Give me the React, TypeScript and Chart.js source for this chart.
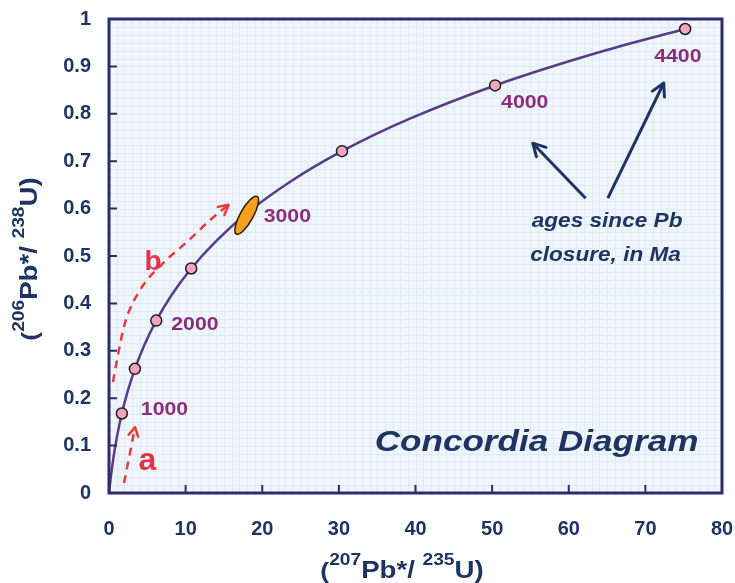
import { useEffect, useRef } from 'react';
import { Chart, registerables } from 'chart.js';

Chart.register(...registerables);

// Concordia curve (Ma ages and ratios)
const ageMa = [0, 100, 250, 500, 750, 1000, 1250, 1500, 1750, 2000, 2250, 2500, 2750, 3000, 3250, 3500, 3750, 4000, 4250, 4400];
const ratio207_235 = [0, 0.1035, 0.279, 0.636, 1.093, 1.677, 2.425, 3.381, 4.604, 6.168, 8.17, 10.73, 14.005, 18.19, 23.55, 30.41, 39.18, 50.39, 64.73, 75.19];
const ratio206_238 = [0, 0.0156, 0.0395, 0.0807, 0.1234, 0.1678, 0.214, 0.262, 0.3119, 0.3638, 0.4177, 0.4737, 0.532, 0.5927, 0.6556, 0.7211, 0.7891, 0.8598, 0.9334, 0.9789];

// marked ages on the curve
const markerAges = [1000, 1500, 2000, 2500, 3500, 4000, 4400];
const markerX = [1.677, 3.381, 6.168, 10.73, 30.41, 50.39, 75.19];
const markerY = [0.1678, 0.262, 0.3638, 0.4737, 0.7211, 0.8598, 0.9789];

// labelled ages
const ageLabels = ['1000', '2000', '3000', '4000', '4400'];
const ageLabelX = [1.677, 6.168, 17.97, 50.39, 75.19];
const ageLabelY = [0.1678, 0.3638, 0.586, 0.8598, 0.9789];

// discordant sample ellipse centre
const ellipseX = 17.97;
const ellipseY = 0.586;

// dashed arrow paths
const arrowAX = [1.96, 3.4];
const arrowAY = [0.021, 0.139];
const arrowBX = [0.52, 1.05, 2.09, 4.05, 7.06, 10.2, 13.2, 15.6];
const arrowBY = [0.234, 0.281, 0.359, 0.428, 0.485, 0.53, 0.576, 0.608];

// pointer arrows
const pointer1X = [65.1, 72.4];
const pointer1Y = [0.622, 0.865];
const pointer2X = [62.2, 55.3];
const pointer2Y = [0.622, 0.738];

// axis ticks
const xTickLabels = ['0', '10', '20', '30', '40', '50', '60', '70', '80'];
const yTickLabels = ['0', '0.1', '0.2', '0.3', '0.4', '0.5', '0.6', '0.7', '0.8', '0.9', '1'];

const FONT = "'Liberation Sans', Arial, Helvetica, sans-serif";
const NAVY = '#1f3462';
const FRAME = '#2c2b6e';
const CURVE = '#5b3a88';
const AGE = '#8b2d7c';
const RED = '#e63c3c';
const RED_TXT = '#e2334a';

const pts = (xs: number[], ys: number[]) => xs.map((x, i) => ({ x, y: ys[i] }));

function stretchText(ctx: CanvasRenderingContext2D, t: string, x: number, y: number, sx: number) {
  ctx.save();
  ctx.translate(x, y);
  ctx.scale(sx, 1);
  ctx.fillText(t, 0, 0);
  ctx.restore();
}

function drawRich(ctx: CanvasRenderingContext2D, parts: [string, number, number][], cx: number, cy: number, sx: number) {
  let total = 0;
  for (const [t, s] of parts) {
    ctx.font = `bold ${s}px ${FONT}`;
    total += ctx.measureText(t).width * sx;
  }
  let x = cx - total / 2;
  ctx.textAlign = 'left';
  ctx.textBaseline = 'alphabetic';
  for (const [t, s, r] of parts) {
    ctx.font = `bold ${s}px ${FONT}`;
    stretchText(ctx, t, x, cy - r, sx);
    x += ctx.measureText(t).width * sx;
  }
}

function arrowHead(ctx: CanvasRenderingContext2D, x0: number, y0: number, x1: number, y1: number, size: number, color: string, width: number) {
  const a = Math.atan2(y1 - y0, x1 - x0);
  const spread = 0.5;
  ctx.save();
  ctx.setLineDash([]);
  ctx.strokeStyle = color;
  ctx.lineWidth = width;
  ctx.lineCap = 'round';
  ctx.lineJoin = 'round';
  ctx.beginPath();
  ctx.moveTo(x1 - size * Math.cos(a - spread), y1 - size * Math.sin(a - spread));
  ctx.lineTo(x1, y1);
  ctx.lineTo(x1 - size * Math.cos(a + spread), y1 - size * Math.sin(a + spread));
  ctx.stroke();
  ctx.restore();
}

const decor = {
  id: 'decor',
  beforeDraw(chart: any) {
    const { ctx, chartArea: ca, scales } = chart;
    const xs = scales.x;
    const ys = scales.y;
    ctx.save();
    ctx.fillStyle = '#eff6fb';
    ctx.fillRect(ca.left, ca.top, ca.right - ca.left, ca.bottom - ca.top);
    ctx.strokeStyle = '#dfeaf3';
    ctx.lineWidth = 1;
    ctx.beginPath();
    for (let v = 1; v < 80; v += 1) {
      const px = Math.round(xs.getPixelForValue(v)) + 0.5;
      ctx.moveTo(px, ca.top);
      ctx.lineTo(px, ca.bottom);
    }
    for (let k = 1; k < 60; k++) {
      const py = Math.round(ys.getPixelForValue(k / 60)) + 0.5;
      ctx.moveTo(ca.left, py);
      ctx.lineTo(ca.right, py);
    }
    ctx.stroke();
    ctx.restore();
  },
  afterDatasetsDraw(chart: any) {
    const { ctx, chartArea: ca, scales } = chart;
    const xs = scales.x;
    const ys = scales.y;
    const px = (v: number) => xs.getPixelForValue(v);
    const py = (v: number) => ys.getPixelForValue(v);
    ctx.save();

    // ellipse
    ctx.beginPath();
    ctx.ellipse(px(ellipseX), py(ellipseY), 21.5, 6.5, (-61 * Math.PI) / 180, 0, Math.PI * 2);
    ctx.fillStyle = '#f59f1e';
    ctx.fill();
    ctx.lineWidth = 1.5;
    ctx.strokeStyle = '#2a1a10';
    ctx.stroke();

    // arrowheads at the end of arrow datasets
    const heads: [number, number, string, number][] = [
      [2, 10, RED, 2.5],
      [3, 11, RED, 2.5],
      [4, 14, NAVY, 3],
      [5, 14, NAVY, 3],
    ];
    for (const [di, size, color, w] of heads) {
      const d = chart.getDatasetMeta(di).data;
      const a = d[d.length - 2];
      const b = d[d.length - 1];
      arrowHead(ctx, a.x, a.y, b.x, b.y, size, color, w);
    }

    // age labels
    const offs = [
      [19, -4],
      [15, 4],
      [17, 2],
      [6, 17],
      [-31, 28],
    ];
    ctx.fillStyle = AGE;
    ctx.font = `bold 19px ${FONT}`;
    ctx.textAlign = 'left';
    ctx.textBaseline = 'middle';
    ageLabels.forEach((t, i) => {
      stretchText(ctx, t, px(ageLabelX[i]) + offs[i][0], py(ageLabelY[i]) + offs[i][1], 1.12);
    });

    // a / b
    ctx.fillStyle = RED_TXT;
    ctx.textAlign = 'center';
    ctx.font = `bold 32px ${FONT}`;
    ctx.fillText('a', px(5.0), py(0.068));
    ctx.font = `bold 28px ${FONT}`;
    ctx.fillText('b', px(5.75), py(0.487));

    // notes
    ctx.fillStyle = NAVY;
    ctx.font = `italic bold 20px ${FONT}`;
    stretchText(ctx, 'ages since Pb', px(65.0), py(0.572), 1.13);
    stretchText(ctx, 'closure, in Ma', px(64.8), py(0.502), 1.13);
    ctx.font = `italic bold 30px ${FONT}`;
    stretchText(ctx, 'Concordia Diagram', px(55.8), py(0.105), 1.17);

    // frame
    ctx.strokeStyle = FRAME;
    ctx.lineWidth = 3;
    ctx.strokeRect(ca.left, ca.top, ca.right - ca.left, ca.bottom - ca.top);

    // inward ticks
    ctx.lineWidth = 2;
    ctx.beginPath();
    for (let v = 10; v < 80; v += 10) {
      const x = px(v);
      ctx.moveTo(x, ca.bottom);
      ctx.lineTo(x, ca.bottom - 8);
    }
    for (let k = 1; k < 10; k++) {
      const y = py(k / 10);
      ctx.moveTo(ca.left, y);
      ctx.lineTo(ca.left + 8, y);
    }
    ctx.stroke();

    // axis titles
    ctx.fillStyle = NAVY;
    drawRich(
      ctx,
      [
        ['(', 22, 0],
        ['207', 16, 13],
        ['Pb*/ ', 23, 0],
        ['235', 16, 13],
        ['U)', 23, 0],
      ],
      402,
      578,
      1.2
    );
    ctx.translate(37, 259);
    ctx.rotate(-Math.PI / 2);
    drawRich(
      ctx,
      [
        ['(', 22, 0],
        ['206', 16, 13],
        ['Pb*/ ', 23, 0],
        ['238', 16, 13],
        ['U)', 23, 0],
      ],
      0,
      0,
      1.2
    );
    ctx.restore();
  },
};

export default function App() {
  const ref = useRef<HTMLCanvasElement>(null);
  useEffect(() => {
    const chart = new Chart(ref.current as HTMLCanvasElement, {
      type: 'scatter',
      data: {
        datasets: [
          {
            label: 'Concordia',
            data: pts(ratio207_235, ratio206_238),
            showLine: true,
            borderColor: CURVE,
            borderWidth: 2.5,
            pointRadius: 0,
            cubicInterpolationMode: 'monotone',
            order: 1,
          },
          {
            label: 'Ages ' + markerAges.join(','),
            data: pts(markerX, markerY),
            showLine: false,
            pointRadius: 5.5,
            pointBackgroundColor: '#f4a3c1',
            pointBorderColor: '#1e1e1e',
            pointBorderWidth: 1.5,
            order: 0,
          },
          {
            label: 'a',
            data: pts(arrowAX, arrowAY),
            showLine: true,
            borderColor: RED,
            borderWidth: 2.5,
            borderDash: [8, 6],
            pointRadius: 0,
          },
          {
            label: 'b',
            data: pts(arrowBX, arrowBY),
            showLine: true,
            borderColor: RED,
            borderWidth: 2.5,
            borderDash: [8, 6],
            pointRadius: 0,
            cubicInterpolationMode: 'monotone',
          },
          {
            label: 'p1',
            data: pts(pointer1X, pointer1Y),
            showLine: true,
            borderColor: NAVY,
            borderWidth: 3,
            pointRadius: 0,
          },
          {
            label: 'p2',
            data: pts(pointer2X, pointer2Y),
            showLine: true,
            borderColor: NAVY,
            borderWidth: 3,
            pointRadius: 0,
          },
        ],
      },
      options: {
        responsive: false,
        animation: false,
        layout: { padding: { left: 0, top: 19, right: 13, bottom: 0 } },
        plugins: { legend: { display: false }, tooltip: { enabled: false } },
        scales: {
          x: {
            type: 'linear',
            min: 0,
            max: 80,
            grid: { display: false, drawTicks: false },
            border: { display: false },
            ticks: {
              stepSize: 10,
              padding: 24,
              maxRotation: 0,
              autoSkip: false,
              color: NAVY,
              font: { family: FONT, size: 20, weight: 'bold' },
              callback: (_v: any, i: number) => xTickLabels[i],
            },
            afterFit: (s: any) => {
              s.height = 90;
              s.paddingLeft = 0;
              s.paddingRight = 0;
              s.paddingTop = 0;
              s.paddingBottom = 0;
            },
          },
          y: {
            type: 'linear',
            min: 0,
            max: 1,
            grid: { display: false, drawTicks: false },
            border: { display: false },
            ticks: {
              stepSize: 0.1,
              padding: 18,
              color: NAVY,
              font: { family: FONT, size: 20, weight: 'bold' },
              callback: (_v: any, i: number) => yTickLabels[i],
            },
            afterFit: (s: any) => {
              s.width = 109;
              s.paddingLeft = 0;
              s.paddingRight = 0;
              s.paddingTop = 0;
              s.paddingBottom = 0;
            },
          },
        },
      },
      plugins: [decor],
    } as any);
    return () => chart.destroy();
  }, []);
  return (
    <div style={{ position: 'absolute', left: 0, top: 0, width: 735, height: 583, background: '#fff' }}>
      <canvas ref={ref} width={735} height={583} style={{ display: 'block' }} />
    </div>
  );
}
